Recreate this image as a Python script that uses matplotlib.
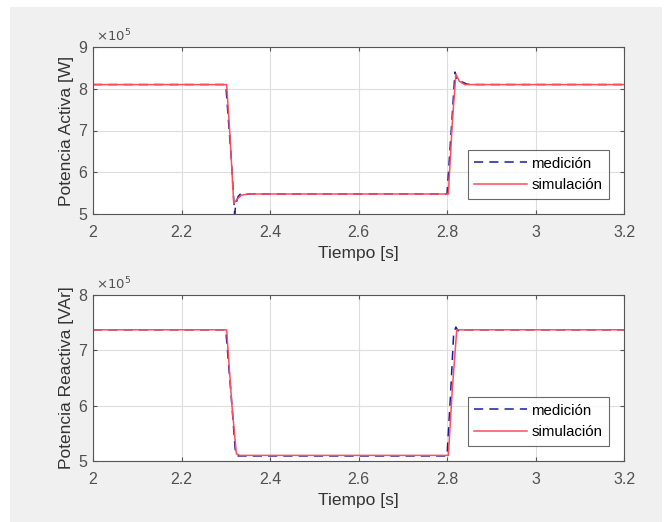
import matplotlib
matplotlib.use("Agg")
import matplotlib.pyplot as plt
from matplotlib.patches import Rectangle

plt.rcParams["font.family"] = ["Liberation Sans", "DejaVu Sans"]

# Active power (x1e5 W)
t_p_med = [2.0, 2.300, 2.312, 2.320, 2.323, 2.328, 2.335, 2.345, 2.360, 2.800,
           2.812, 2.818, 2.822, 2.828, 2.835, 2.845, 2.870, 3.2]
p_med = [8.10, 8.10, 6.40, 5.00, 5.25, 5.42, 5.50, 5.47, 5.48, 5.48,
         7.40, 8.40, 8.25, 8.14, 8.16, 8.11, 8.10, 8.10]
t_p_sim = [2.0, 2.302, 2.310, 2.318, 2.325, 2.335, 2.350, 2.800, 2.803,
           2.812, 2.820, 2.828, 2.840, 3.2]
p_sim = [8.10, 8.10, 6.80, 5.25, 5.35, 5.45, 5.48, 5.48, 5.48,
         7.20, 8.35, 8.18, 8.10, 8.10]

# Reactive power (x1e5 VAr)
t_q_med = [2.0, 2.300, 2.312, 2.322, 2.328, 2.800, 2.808, 2.815, 2.820,
           2.825, 2.830, 2.840, 3.2]
q_med = [7.37, 7.37, 6.20, 5.14, 5.09, 5.09, 6.20, 7.30, 7.42,
         7.35, 7.40, 7.37, 7.37]
t_q_sim = [2.0, 2.302, 2.314, 2.324, 2.332, 2.800, 2.803, 2.812, 2.822, 3.2]
q_sim = [7.37, 7.37, 6.00, 5.13, 5.10, 5.10, 5.10, 6.30, 7.37, 7.37]

x_ticks = [2, 2.2, 2.4, 2.6, 2.8, 3, 3.2]
x_labels = ["2", "2.2", "2.4", "2.6", "2.8", "3", "3.2"]

fig = plt.figure(figsize=(6.72, 5.22), dpi=100)
fig.patch.set_facecolor("white")
bg = fig.add_axes([0, 0, 1, 1], zorder=-10)
bg.axis("off")
bg.add_patch(Rectangle((10 / 672, 0), 652 / 672, 1 - 7 / 522,
                       transform=bg.transAxes, facecolor="#f0f0f0",
                       edgecolor="none"))

ax1 = fig.add_axes([0.1384, 0.590, 0.7902, 0.320])
ax2 = fig.add_axes([0.1384, 0.117, 0.7902, 0.318])

panels = [
    (ax1, t_p_med, p_med, t_p_sim, p_sim, (5, 9), [5, 6, 7, 8, 9],
     "Potencia Activa [W]"),
    (ax2, t_q_med, q_med, t_q_sim, q_sim, (5, 8), [5, 6, 7, 8],
     "Potencia Reactiva [VAr]"),
]

for ax, tm, ym, ts, ys, ylim, yticks, ylabel in panels:
    ax.plot(tm, ym, color="#1a1aa0", linestyle=(0, (6, 4)), linewidth=1.1,
            label="medición")
    ax.plot(ts, ys, color="#ff4d5e", linewidth=1.1, label="simulación")
    ax.set_xlim(2, 3.2)
    ax.set_ylim(*ylim)
    ax.set_xticks(x_ticks)
    ax.set_xticklabels(x_labels)
    ax.set_yticks(yticks)
    ax.grid(True, color="#dedede", linewidth=0.8)
    ax.set_axisbelow(True)
    ax.tick_params(direction="in", top=True, right=True, length=3,
                   colors="#555555", labelcolor="#505050", labelsize=11.5)
    ax.tick_params(axis="x", pad=8)
    ax.tick_params(axis="y", pad=4)
    for s in ax.spines.values():
        s.set_color("#555555")
        s.set_linewidth(0.8)
    ax.set_xlabel("Tiempo [s]", fontsize=12.5, color="#333333", labelpad=4)
    ax.set_ylabel(ylabel, fontsize=12.5, color="#333333", labelpad=3)
    ax.text(0.005, 1.015, r"$\times10^{5}$", transform=ax.transAxes,
            fontsize=9.5, color="#505050", ha="left", va="bottom")
    leg = ax.legend(loc="lower right", bbox_to_anchor=(0.972, 0.09),
                    fontsize=10.8, frameon=True, fancybox=False,
                    handlelength=3.5, borderpad=0.45, labelspacing=0.5,
                    handletextpad=0.3, borderaxespad=0)
    leg.get_frame().set_edgecolor("#444444")
    leg.get_frame().set_linewidth(0.8)

fig.savefig("out.png", dpi=100)
